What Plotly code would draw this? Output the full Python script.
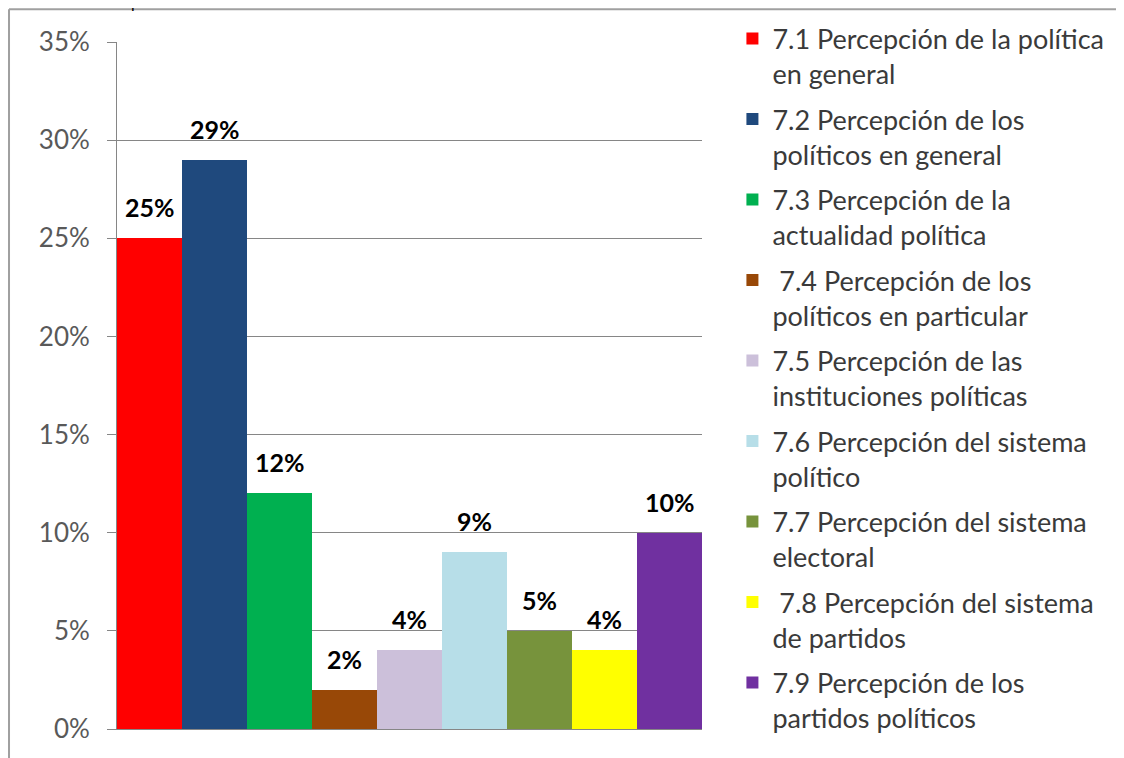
import plotly.graph_objects as go

categories = ["c71", "c72", "c73", "c74", "c75", "c76", "c77", "c78", "c79"]
series_names = [
    "7.1 Percepción de la política<br>en general",
    "7.2 Percepción de los<br>políticos en general",
    "7.3 Percepción de la<br>actualidad política",
    " 7.4 Percepción de los<br>políticos en particular",
    "7.5 Percepción de las<br>instituciones políticas",
    "7.6 Percepción del sistema<br>político",
    "7.7 Percepción del sistema<br>electoral",
    " 7.8 Percepción del sistema<br>de partidos",
    "7.9 Percepción de los<br>partidos políticos",
]
values = [0.25, 0.29, 0.12, 0.02, 0.04, 0.09, 0.05, 0.04, 0.10]
value_labels = ["25%", "29%", "12%", "2%", "4%", "9%", "5%", "4%", "10%"]
colors = ["#FF0000", "#1F497D", "#00B050", "#984807", "#CCC0DA",
          "#B7DEE8", "#77933C", "#FFFF00", "#7030A0"]
y_ticks = [0, 0.05, 0.10, 0.15, 0.20, 0.25, 0.30, 0.35]
y_tick_labels = ["0%", "5%", "10%", "15%", "20%", "25%", "30%", "35%"]

fig = go.Figure()
for i, cat in enumerate(categories):
    fig.add_trace(go.Bar(
        x=[cat], y=[values[i]], name=series_names[i],
        marker=dict(color=colors[i], line=dict(width=0)),
        legendgroup=cat, hoverinfo="skip",
    ))

annotations = []
for i, cat in enumerate(categories):
    annotations.append(dict(
        x=cat, y=values[i], xref="x", yref="y", text="<b>" + value_labels[i] + "</b>",
        showarrow=False, yanchor="bottom", yshift=14,
        font=dict(family="Lato", size=25, color="#000000"),
    ))
annotations.append(dict(
    x=0.075, y=1.0422, xref="paper", yref="paper", text="políticos",
    showarrow=False, yanchor="bottom", xanchor="center",
    font=dict(family="Lato", size=16, color="#000000"),
))

fig.update_layout(
    width=1116, height=750,
    margin=dict(l=109, r=422, t=34, b=29, autoexpand=False),
    paper_bgcolor="white", plot_bgcolor="white",
    barmode="relative", bargap=0,
    showlegend=True,
    legend=dict(
        x=1.052, y=1.04, xanchor="left", yanchor="top",
        bgcolor="rgba(0,0,0,0)",
        font=dict(family="Lato", size=27, color="#3A3A3A"),
        traceorder="grouped", tracegroupgap=7.3, valign="top",
        itemwidth=30, maxheight=900,
    ),
    xaxis=dict(
        type="category",
        showticklabels=False, showgrid=False, showline=True,
        linecolor="#868686", linewidth=1, ticks="", fixedrange=True,
    ),
    yaxis=dict(
        range=[0, 0.35], tickvals=y_ticks, ticktext=y_tick_labels,
        showgrid=True, gridcolor="#868686", gridwidth=1,
        showline=True, linecolor="#868686", linewidth=1,
        ticks="outside", ticklen=9, tickcolor="#868686",
        tickfont=dict(family="Lato", size=26, color="#595959"),
        ticklabelstandoff=12,
        zeroline=False,
    ),
    annotations=annotations,
    shapes=[
        dict(type="line", xref="paper", yref="paper", x0=-0.1846, x1=1.75,
             y0=1.0475, y1=1.0475, line=dict(color="#A0A0A0", width=2)),
        dict(type="line", xref="paper", yref="paper", x0=-0.1846, x1=-0.1846,
             y0=-0.06, y1=1.0475, line=dict(color="#A0A0A0", width=2)),
    ],
)

fig.write_html("out.html")
